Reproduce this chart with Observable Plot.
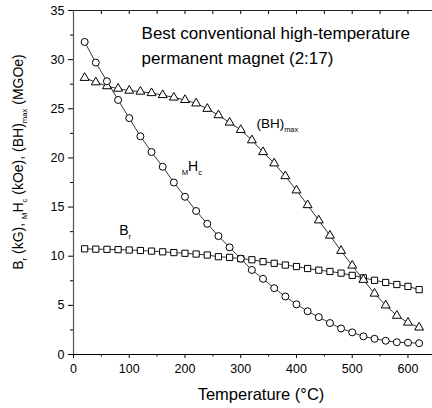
<!DOCTYPE html>
<html>
<head>
<meta charset="utf-8">
<script src="https://cdn.jsdelivr.net/npm/d3@7"></script>
<script src="https://cdn.jsdelivr.net/npm/@observablehq/plot@0.6"></script>
<style>
  html, body { margin: 0; padding: 0; background: #fff; overflow: hidden; }
  svg { display: block; }
</style>
</head>
<body>
<div id="chart"></div>
<script>
// Temperature (°C)
const temps = [20, 40, 60, 80, 100, 120, 140, 160, 180, 200, 220, 240, 260, 280, 300, 320, 340, 360, 380, 400, 420, 440, 460, 480, 500, 520, 540, 560, 580, 600, 620];
// MHc (kOe)
const mhc = [31.8, 29.7, 27.8, 25.9, 24.05, 22.2, 20.6, 19.1, 17.5, 16.05, 14.6, 13.3, 12.05, 10.9, 9.75, 8.6, 7.7, 6.75, 5.9, 5.1, 4.4, 3.8, 3.2, 2.65, 2.25, 1.85, 1.6, 1.4, 1.25, 1.2, 1.15];
// (BH)max (MGOe)
const bhmax = [28.15, 27.7, 27.3, 27.05, 26.85, 26.75, 26.6, 26.4, 26.15, 25.9, 25.55, 25.0, 24.35, 23.6, 22.85, 21.8, 20.6, 19.45, 18.15, 16.7, 15.2, 13.65, 12.1, 10.55, 9.05, 7.6, 6.2, 5.0, 3.95, 3.25, 2.75];
// Br (kG)
const br = [10.75, 10.72, 10.7, 10.67, 10.63, 10.58, 10.52, 10.45, 10.37, 10.3, 10.22, 10.12, 9.95, 9.88, 9.75, 9.64, 9.45, 9.28, 9.1, 8.95, 8.75, 8.58, 8.45, 8.28, 8.05, 7.8, 7.55, 7.33, 7.12, 6.93, 6.6];

const xTicks = [0, 100, 200, 300, 400, 500, 600];
const xMinorTicks = [50, 150, 250, 350, 450, 550];
const xTopTicks = [50, 100, 150, 200, 250, 300, 350, 400, 450, 500, 550, 600];
const yTicks = [0, 5, 10, 15, 20, 25, 30, 35];
const yMinorTicks = [2.5, 7.5, 12.5, 17.5, 22.5, 27.5, 32.5];

const rows = (ys) => temps.map((t, i) => ({t, v: ys[i]}));
const mhcData = rows(mhc), bhData = rows(bhmax), brData = rows(br);

const font = "'Liberation Sans', Arial, Helvetica, sans-serif";

const chart = Plot.plot({
  width: 432,
  height: 408,
  marginLeft: 73,
  marginRight: 0,
  marginTop: 10,
  marginBottom: 54,
  x: {domain: [0, 644]},
  y: {domain: [0, 35]},
  style: {fontFamily: font, fontSize: "12.5px", color: "black", background: "white", overflow: "visible"},
  marks: [
    Plot.axisY({ticks: yTicks, tickSize: 5, tickPadding: 4, label: null, fontSize: 12.5}),
    Plot.axisY({ticks: yMinorTicks, tickSize: 3, text: null, label: null}),
    Plot.axisX({ticks: xTicks, tickSize: 4, tickPadding: 6, label: null, fontSize: 12.5}),
    Plot.axisX({ticks: xMinorTicks, tickSize: 2.5, text: null, label: null}),
    Plot.axisX({anchor: "top", ticks: xTopTicks, tickSize: -3, text: null, label: null}),
    Plot.frame({anchor: "top", stroke: "#222", strokeWidth: 1}),
    Plot.frame({anchor: "left", stroke: "#555", strokeWidth: 1.2}),
    Plot.frame({anchor: "bottom", stroke: "black", strokeWidth: 1}),
    Plot.line(brData, {x: "t", y: "v", stroke: "black", strokeWidth: 0.8}),
    Plot.line(bhData, {x: "t", y: "v", stroke: "black", strokeWidth: 0.8}),
    Plot.line(mhcData, {x: "t", y: "v", stroke: "black", strokeWidth: 0.8}),
    Plot.dot(brData, {x: "t", y: "v", symbol: "square", r: 3.5, stroke: "black", fill: "white", strokeWidth: 1}),
    Plot.dot(bhData, {x: "t", y: "v", symbol: "triangle", r: 3.3, stroke: "black", fill: "white", strokeWidth: 1}),
    Plot.dot(mhcData, {x: "t", y: "v", symbol: "circle", r: 3.5, stroke: "black", fill: "white", strokeWidth: 1})
  ]
});

document.getElementById("chart").appendChild(chart);

const xs = chart.scale("x"), ys = chart.scale("y");
const svg = d3.select(chart);

function rich(parts, x, y, size, anchor) {
  const t = svg.append("text")
    .attr("x", x).attr("y", y)
    .attr("font-family", font)
    .attr("font-size", size)
    .attr("fill", "black")
    .attr("text-anchor", anchor || "start");
  let shift = 0;
  for (const [str, kind] of parts) {
    const sp = t.append("tspan").text(str);
    const target = (kind === "sub" || kind === "pre") ? 0.3 * size : 0;
    sp.attr("dy", target - shift); shift = target;
    if (kind === "sub" || kind === "pre") sp.attr("font-size", size * 0.55);
  }
  return t;
}

// Title annotation (two lines)
rich([["Best conventional high-temperature"]], xs.apply(123), ys.apply(32.1), 17, "start");
rich([["permanent magnet (2:17)"]], xs.apply(123), ys.apply(29.55), 17, "start");

// Series labels
rich([["(BH)"], ["max", "sub"]], xs.apply(329), ys.apply(23.0), 13.5);
rich([["M", "pre"], ["H"], ["c", "sub"]], xs.apply(195), ys.apply(18.6), 14);
rich([["B"], ["r", "sub"]], xs.apply(83), ys.apply(12.1), 14);

// Axis titles
rich([["Temperature (°C)"]], 261, 400, 16.5, "middle");
rich([["B"], ["r", "sub"], [" (kG), "], ["M", "sub"], ["H"], ["c", "sub"], [" (kOe), (BH)"], ["max", "sub"], [" (MGOe)"]], 0, 0, 14, "middle")
  .attr("transform", "translate(23,162) rotate(-90)");
</script>
</body>
</html>
